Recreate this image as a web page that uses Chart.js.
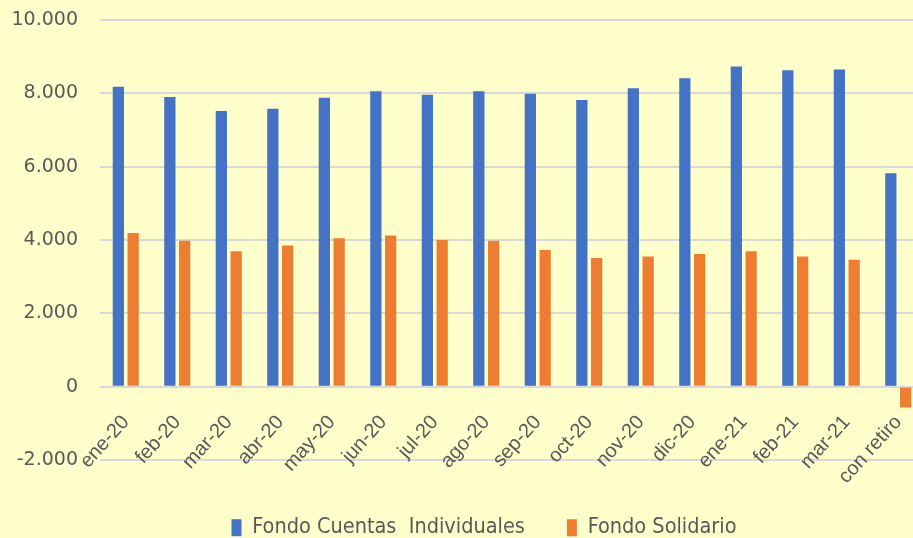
<!DOCTYPE html>
<html>
<head>
<meta charset="utf-8">
<script src="https://cdn.jsdelivr.net/npm/chart.js@4/dist/chart.umd.min.js"></script>
<style>
  html, body { margin: 0; padding: 0; background: #FFFFCC; overflow: hidden; }
  #wrap { width: 924px; height: 538px; }
</style>
</head>
<body>
<div id="wrap"><canvas id="grafico"></canvas></div>
<script>
// meses
var categorias = ['ene-20', 'feb-20', 'mar-20', 'abr-20', 'may-20', 'jun-20', 'jul-20', 'ago-20',
                  'sep-20', 'oct-20', 'nov-20', 'dic-20', 'ene-21', 'feb-21', 'mar-21', 'con retiro'];
var cuentasIndividuales = [8180, 7900, 7520, 7580, 7880, 8060, 7960, 8060, 7990, 7820, 8140, 8410, 8730, 8630, 8650, 5820];
var fondoSolidario = [4190, 3980, 3690, 3850, 4050, 4120, 4000, 3980, 3730, 3510, 3550, 3620, 3690, 3550, 3460, -570];
var ticksY = [-2000, 0, 2000, 4000, 6000, 8000, 10000];

function miles(v) {
    var s = Math.abs(v).toString().replace(/\B(?=(\d{3})+(?!\d))/g, '.');
    return (v < 0 ? '-' : '') + s;
}

var gris = '#595959';

// corre la leyenda un poco a la derecha, como en el original
var moverLeyenda = {
    id: 'moverLeyenda',
    afterLayout: function (chart) {
        chart.legend.left += 22;
        chart.legend.right += 22;
    }
};

var config = {
    type: 'bar',
    data: {
        labels: categorias,
        datasets: [
            {
                label: 'Fondo Cuentas  Individuales',
                data: cuentasIndividuales,
                backgroundColor: '#4472C4',
                categoryPercentage: 0.575,
                barPercentage: 0.76
            },
            {
                label: 'Fondo Solidario',
                data: fondoSolidario,
                backgroundColor: '#ED7D31',
                categoryPercentage: 0.575,
                barPercentage: 0.76
            }
        ]
    },
    options: {
        responsive: true,
        maintainAspectRatio: false,
        animation: false,
        layout: { padding: { top: 0, left: 0, right: 0, bottom: 0 } },
        plugins: {
            tooltip: { enabled: false },
            legend: {
                position: 'bottom',
                maxHeight: 63,
                labels: {
                    color: gris,
                    boxWidth: 10,
                    boxHeight: 17,
                    padding: 42,
                    font: { family: '"Liberation Sans Narrow", "DejaVu Sans Condensed", sans-serif', size: 21.5 }
                }
            }
        },
        scales: {
            x: {
                position: { y: 0 },
                grid: { display: false },
                border: { display: false },
                ticks: {
                    color: gris,
                    maxRotation: 48,
                    minRotation: 48,
                    padding: 16,
                    autoSkip: false,
                    font: { family: '"Liberation Sans", sans-serif', size: 20 }
                },
                afterFit: function (s) {
                    s.paddingTop = 0;
                    s.paddingBottom = 0;
                    s.paddingLeft = 0;
                    s.paddingRight = 0;
                }
            },
            // eje vacio solo para reservar espacio sobre la leyenda
            xEspacio: {
                type: 'category',
                position: 'bottom',
                grid: { display: false },
                border: { display: false },
                ticks: { display: false },
                afterFit: function (s) { s.height = 15; }
            },
            y: {
                min: -2000,
                max: 10000,
                afterBuildTicks: function (s) {
                    s.ticks = ticksY.map(function (v) { return { value: v }; });
                },
                grid: { color: '#D9D9D9', lineWidth: 2, drawTicks: false },
                border: { display: false },
                ticks: {
                    color: gris,
                    padding: 22,
                    font: { family: '"DejaVu Sans", sans-serif', size: 19 },
                    callback: function (v) { return miles(v); }
                },
                afterFit: function (s) {
                    s.width = 100;
                    s.paddingTop = 20;
                    s.paddingBottom = 12;
                }
            }
        }
    },
    plugins: [moverLeyenda]
};

var ctx = document.getElementById('grafico').getContext('2d');
var chart = new Chart(ctx, config);
</script>
</body>
</html>
